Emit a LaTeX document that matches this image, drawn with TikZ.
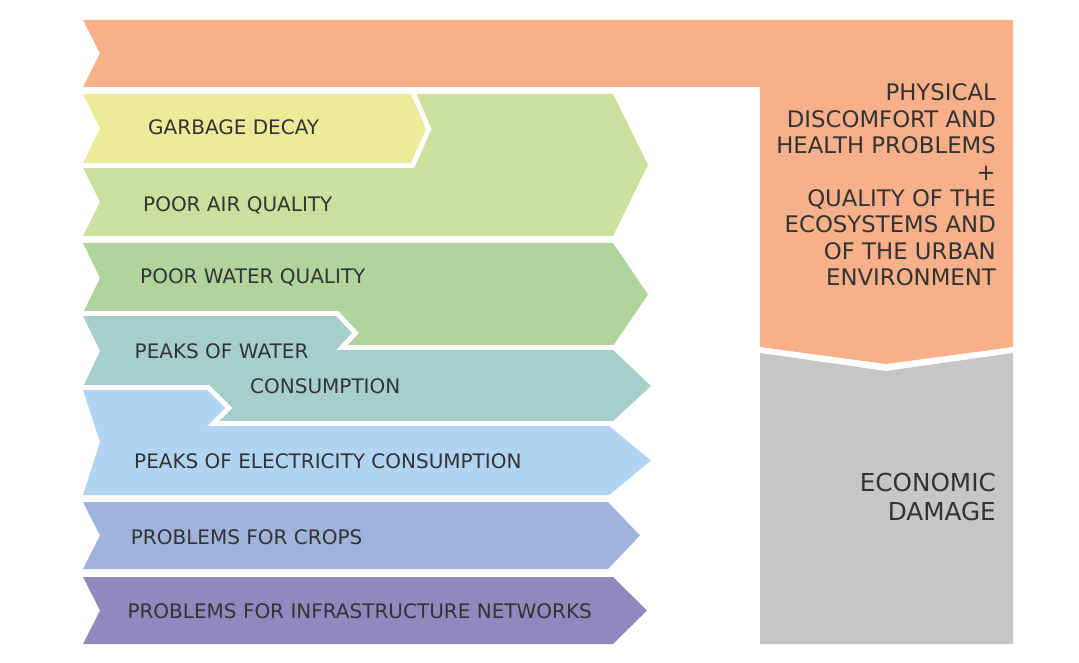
\documentclass[tikz,border=0pt]{standalone}
\usepackage{fontspec}
\setmainfont{DejaVu Sans}
\definecolor{orangec}{HTML}{F7B08A}
\definecolor{grayc}{HTML}{C6C6C6}
\definecolor{yellowc}{HTML}{EDEB98}
\definecolor{lgreenc}{HTML}{CDDF9C}
\definecolor{mgreenc}{HTML}{B1D49C}
\definecolor{tealc}{HTML}{A6CFCC}
\definecolor{lbluec}{HTML}{B0D4F1}
\definecolor{peric}{HTML}{9FB3DC}
\definecolor{purplec}{HTML}{9088BE}
\definecolor{txt}{HTML}{333333}
\begin{document}
\begin{tikzpicture}[x=1pt,y=-1pt,line join=miter,
  band/.style={fill=#1},
  overband/.style={fill=#1,preaction={draw=white,line width=10pt}},
  lbl/.style={anchor=base west,inner sep=0pt,text=txt,font=\fontsize{20}{24}\selectfont},
  rlbl/.style={anchor=base east,inner sep=0pt,text=txt,font=\fontsize{22.8}{26}\selectfont},
  elbl/.style={anchor=base east,inner sep=0pt,text=txt,font=\fontsize{24.7}{28}\selectfont}]
\useasboundingbox (0,0) rectangle (1079,663);
% orange band and column
\path[band=orangec] (83,20) -- (1013,20) -- (1013,347) -- (886,364) -- (760,347) -- (760,87) -- (83,87) -- (100,53.5) -- cycle;
% gray column
\path[band=grayc] (760,353) -- (886,371) -- (1013,353) -- (1013,644) -- (760,644) -- cycle;
% light green
\path[band=lgreenc] (150,94) -- (613,94) -- (648,165) -- (613,236) -- (83,236) -- (100,202) -- (83,168) -- (150,168) -- cycle;
% yellow
\path[overband=yellowc] (83,94) -- (411,94) -- (426,129) -- (411,163) -- (83,163) -- (100,128.5) -- cycle;
% medium green
\path[band=mgreenc] (83,243) -- (613,243) -- (648,294.5) -- (613,346) -- (150,346) -- (150,313) -- (83,313) -- (100,278) -- cycle;
% teal
\path[overband=tealc] (83,316) -- (336,316) -- (352,333) -- (336,350) -- (613,350) -- (651,386) -- (613,421) -- (150,421) -- (150,387) -- (83,387) -- (100,351) -- cycle;
% light blue
\path[overband=lbluec] (83,390) -- (207,390) -- (225,408) -- (207,426) -- (609,426) -- (651,460.5) -- (609,495) -- (83,495) -- (100,442) -- cycle;
% periwinkle
\path[band=peric] (83,502) -- (608,502) -- (640,535.5) -- (608,569) -- (83,569) -- (100,535.5) -- cycle;
% purple
\path[band=purplec] (83,577) -- (613,577) -- (647,610.5) -- (613,644) -- (83,644) -- (100,610.5) -- cycle;
% left labels
\node[lbl] (garbage) at (148,135) {GARBAGE DECAY};
\node[lbl] (air) at (143,212) {POOR AIR QUALITY};
\node[lbl] (water) at (140,283.5) {POOR WATER QUALITY};
\node[lbl] (peakw) at (134.5,358.3) {PEAKS OF WATER};
\node[lbl] (cons) at (250,393.3) {CONSUMPTION};
\node[lbl] (peake) at (134,468.3) {PEAKS OF ELECTRICITY CONSUMPTION};
\node[lbl] (crops) at (130.7,544.3) {PROBLEMS FOR CROPS};
\node[lbl] (infra) at (127.3,618.3) {PROBLEMS FOR INFRASTRUCTURE NETWORKS};
% right labels
\node[rlbl] (r1) at (996,101) {PHYSICAL};
\node[rlbl] (r2) at (996,127.4) {DISCOMFORT AND};
\node[rlbl] (r3) at (996,153.8) {HEALTH PROBLEMS};
\node[rlbl] (r4) at (996,180.2) {+};
\node[rlbl] (r5) at (996,206.6) {QUALITY OF THE};
\node[rlbl] (r6) at (996,233) {ECOSYSTEMS AND};
\node[rlbl] (r7) at (996,259.4) {OF THE URBAN};
\node[rlbl] (r8) at (996,285.8) {ENVIRONMENT};
\node[elbl] (e1) at (996,491.7) {ECONOMIC};
\node[elbl] (e2) at (996,520) {DAMAGE};
\end{tikzpicture}
\end{document}
